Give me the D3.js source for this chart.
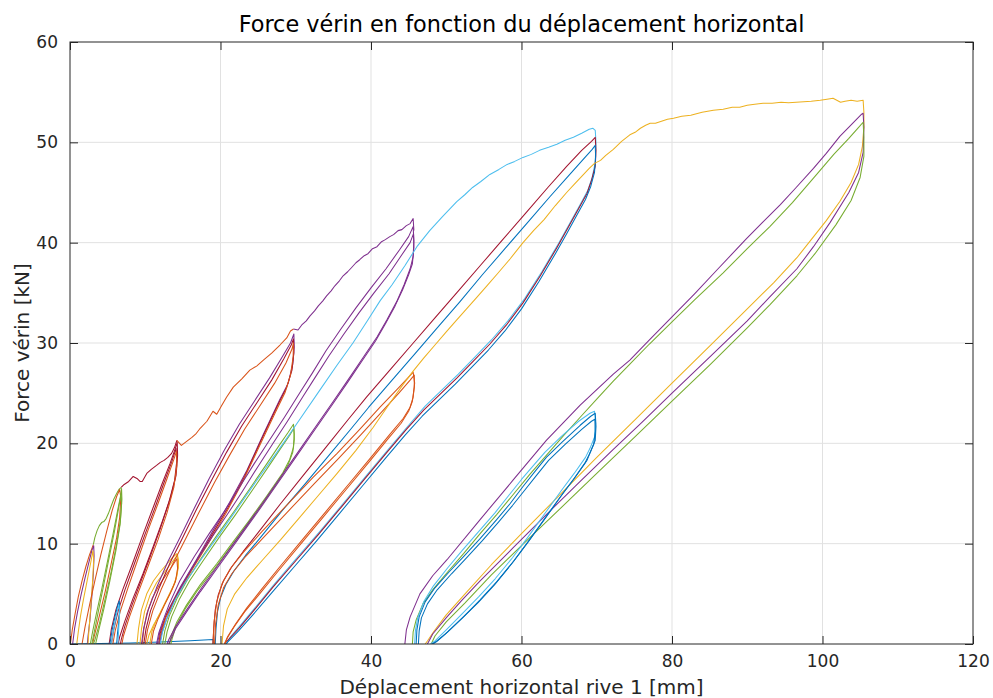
<!DOCTYPE html>
<html>
<head>
<meta charset="utf-8">
<script src="https://cdn.jsdelivr.net/npm/d3@7"></script>
<style>
  body { margin: 0; background: #fff; }
  svg { display: block; }
  text { font-family: "DejaVu Sans", sans-serif; }
</style>
</head>
<body>
<div id="chart"></div>
<script>
// x ticks / y ticks
const xTicks = [0, 20, 40, 60, 80, 100, 120];
const yTicks = [0, 10, 20, 30, 40, 50, 60];

// each curve: [displacement mm, force kN]
const baseline = [[0.2,0],[4,0.05],[8,0.1],[12,0.2],[16,0.32],[19,0.45],[19.05,0.1]];

// cycles up to ~3 mm
const envA = [[0.05,0],[0.3,1.4],[0.7,3.1],[1.1,4.7],[1.6,6.3],[2.1,7.7],[2.6,8.9],[2.95,9.6],[3.1,9.9]];
const cycA1 = [[0.35,0],[0.6,1.5],[1.0,3.2],[1.5,5.0],[2.0,6.6],[2.5,8.1],[2.9,9.3],[3.15,9.8],[3.2,8.8],[3.1,7.0],[2.9,4.7],[2.65,2.4],[2.4,0.8],[2.3,0]];
const cycA2 = [[0.9,0],[1.1,1.2],[1.4,2.8],[1.8,4.5],[2.3,6.4],[2.75,8.1],[3.05,9.3],[3.15,8.4],[3.0,6.2],[2.75,3.6],[2.5,1.2],[2.4,0]];

// cycles up to ~6.8 mm
const envB = [[3.1,9.9],[3.3,10.6],[3.6,11.3],[3.9,11.8],[4.2,12.1],[4.5,12.2],[4.8,12.5],[5.1,13.0],[5.4,13.6],[5.8,14.4],[6.2,15.0],[6.5,15.4],[6.8,15.6]];
const cycB1 = [[1.6,0],[2.0,1.7],[2.6,3.9],[3.3,6.3],[4.1,8.9],[4.9,11.3],[5.6,13.3],[6.2,14.7],[6.6,15.4],[6.75,14.6],[6.6,12.6],[6.2,10.6],[5.5,8.1],[4.7,5.3],[3.9,2.8],[3.2,0.7],[3.0,0]];
const cycB2 = [[2.7,0],[3.0,1.2],[3.5,3.0],[4.2,5.4],[5.0,8.3],[5.7,10.9],[6.3,13.2],[6.7,14.7],[6.85,15.5],[6.9,14.4],[6.7,12.3],[6.2,10.0],[5.5,7.3],[4.7,4.6],[3.9,2.0],[3.3,0.4],[3.1,0]];
const cycB3 = [[2.9,0],[3.2,1.1],[3.7,3.0],[4.4,5.6],[5.2,8.6],[5.9,11.2],[6.4,13.3],[6.8,15.0],[6.85,14.0],[6.65,11.9],[6.1,9.3],[5.3,6.3],[4.5,3.5],[3.8,1.3],[3.4,0]];

// cycles up to ~14.2 mm
const envC = [[6.8,15.6],[7.2,15.9],[7.8,16.2],[8.4,16.7],[8.9,16.5],[9.3,16.2],[9.6,16.2],[10.2,17.0],[10.8,17.4],[11.5,17.8],[12.0,18.1],[12.5,18.3],[13.0,18.6],[13.5,19.0],[13.9,19.6],[14.2,20.3]];
const cycC1 = [[5.2,0],[5.5,1.5],[6.1,3.4],[7.0,5.4],[8.3,8.0],[9.7,10.9],[11.0,13.5],[12.2,15.9],[13.3,18.0],[14.0,19.5],[14.25,20.1],[14.3,18.8],[14.1,16.8],[13.4,14.7],[12.3,12.3],[11.0,9.6],[9.7,7.0],[8.4,4.6],[7.3,2.3],[6.6,0.7],[6.4,0]];
const cycC2 = [[5.5,0],[5.8,1.4],[6.4,3.3],[7.3,5.4],[8.6,8.1],[10.0,11.0],[11.3,13.6],[12.5,16.1],[13.5,18.1],[14.1,19.5],[14.2,18.3],[13.9,16.3],[13.1,14.0],[12.0,11.5],[10.7,8.8],[9.4,6.2],[8.2,3.8],[7.3,1.8],[6.8,0.4],[6.7,0]];
const cycC3 = [[5.7,0],[6.0,1.3],[6.7,3.3],[7.7,5.6],[9.0,8.4],[10.4,11.4],[11.7,14.0],[12.9,16.5],[13.8,18.4],[14.15,19.2],[14.2,17.8],[13.8,15.6],[12.9,13.1],[11.7,10.4],[10.3,7.6],[9.0,5.0],[7.9,2.7],[7.1,0.8],[6.9,0]];
const smallC1 = [[5.3,0],[5.6,1.4],[6.0,2.8],[6.4,4.0],[6.55,4.3],[6.6,3.6],[6.5,2.3],[6.3,1.0],[6.2,0]];
const smallC2 = [[5.5,0],[5.8,1.4],[6.2,3.0],[6.5,3.9],[6.6,3.2],[6.5,1.8],[6.4,0.5],[6.35,0]];
const smallC3 = [[8.9,0],[9.1,1.5],[9.5,3.4],[10.2,5.0],[11.1,6.3],[12.0,7.2],[12.9,8.0],[13.6,8.6],[14.2,9.0],[14.4,8.4],[14.4,7.6],[14.1,6.5],[13.6,5.5],[12.8,4.3],[12.0,3.1],[11.1,1.9],[10.5,0.9],[10.2,0]];
const smallC4 = [[9.3,0],[9.5,1.5],[9.9,3.2],[10.6,4.8],[11.5,6.1],[12.4,7.0],[13.3,7.9],[14.0,8.6],[14.3,8.9],[14.35,8.0],[14.2,6.8],[13.8,5.9],[13.1,4.8],[12.3,3.6],[11.5,2.4],[10.9,1.3],[10.6,0]];
const smallC5 = [[9.6,0],[9.8,1.4],[10.2,3.0],[10.9,4.5],[11.8,5.8],[12.7,6.8],[13.6,7.8],[14.2,8.5],[14.3,7.5],[14.0,6.2],[13.3,5.0],[12.5,3.8],[11.7,2.5],[11.1,1.3],[10.8,0]];

// cycles up to ~29.7 mm
const envD = [[14.2,20.3],[14.8,19.8],[15.5,20.2],[16.2,20.6],[16.8,21.0],[17.3,21.5],[18.2,22.2],[19.0,23.2],[19.5,22.9],[20.1,23.7],[20.8,24.6],[21.7,25.6],[22.8,26.4],[23.9,27.3],[24.8,27.7],[25.7,28.3],[26.8,29.0],[27.9,29.8],[28.8,30.5],[29.3,31.2],[29.7,31.4]];
const cycD1 = [[9.5,0],[9.8,1.6],[10.4,3.4],[11.5,5.6],[13.0,8.2],[14.6,10.6],[16.5,13.5],[18.5,16.5],[20.5,19.3],[22.5,21.9],[24.5,24.2],[26.5,26.5],[28.2,28.6],[29.3,30.0],[29.75,30.9],[29.8,29.6],[29.6,27.9],[29.0,26.0],[27.9,24.4],[25.7,20.9],[23.5,17.3],[21.2,14.1],[19.0,11.3],[16.8,8.4],[14.6,5.6],[13.0,3.3],[12.0,1.4],[11.6,0]];
const cycD2 = [[9.8,0],[10.1,1.5],[10.7,3.3],[11.8,5.5],[13.3,8.1],[14.9,10.5],[16.8,13.4],[18.8,16.3],[20.8,19.1],[22.8,21.7],[24.8,24.0],[26.8,26.3],[28.4,28.4],[29.4,29.8],[29.7,30.4],[29.75,29.0],[29.5,27.3],[28.8,25.6],[27.6,23.8],[25.4,20.3],[23.2,16.7],[21.0,13.6],[18.8,10.8],[16.6,8.0],[14.4,5.2],[12.8,2.9],[12.0,1.1],[11.8,0]];
const cycD3 = [[10.0,0],[10.3,1.4],[11.0,3.3],[12.1,5.4],[13.6,7.9],[15.3,10.4],[17.2,13.2],[19.2,16.1],[21.2,18.8],[23.2,21.4],[25.2,23.7],[27.2,26.0],[28.7,28.0],[29.5,29.4],[29.7,30.0],[29.65,28.6],[29.3,26.8],[28.6,25.1],[27.3,23.1],[25.1,19.6],[22.9,16.1],[20.7,13.0],[18.5,10.2],[16.3,7.5],[14.2,4.8],[12.7,2.6],[12.0,0.8],[11.9,0]];
const smallD1 = [[12.3,0],[12.6,1.3],[13.2,2.8],[14.2,4.5],[15.6,6.4],[17.3,8.4],[19.5,10.8],[21.7,13.1],[24.0,15.6],[26.1,17.9],[27.8,19.8],[29.0,21.1],[29.7,21.9],[29.8,20.9],[29.7,19.6],[29.2,18.4],[28.3,17.1],[26.1,14.7],[23.9,12.4],[21.7,10.2],[19.5,8.0],[17.3,5.9],[15.5,3.9],[14.2,2.2],[13.5,0.9],[13.2,0]];
const smallD2 = [[12.6,0],[12.9,1.2],[13.5,2.7],[14.5,4.4],[15.9,6.3],[17.6,8.2],[19.8,10.6],[22.0,12.9],[24.3,15.4],[26.4,17.7],[28.0,19.5],[29.2,20.8],[29.75,21.5],[29.8,20.4],[29.6,19.1],[29.0,17.9],[28.0,16.6],[25.8,14.2],[23.6,11.9],[21.4,9.7],[19.2,7.5],[17.0,5.4],[15.3,3.5],[14.1,1.8],[13.6,0.6],[13.4,0]];

// cycles up to ~45.6 mm
const envE = [[29.7,31.4],[30.3,31.3],[30.8,31.8],[31.4,32.2],[31.9,32.7],[32.5,33.2],[33.0,33.7],[33.6,34.2],[34.1,34.7],[34.7,35.2],[35.2,35.7],[35.8,36.2],[36.3,36.7],[36.9,37.1],[37.4,37.5],[38.0,38.0],[38.5,38.3],[39.1,38.7],[39.6,38.9],[40.2,39.4],[40.8,39.6],[41.4,40.1],[41.9,40.3],[42.5,40.6],[43.0,40.8],[43.6,41.2],[44.1,41.3],[44.7,41.7],[45.2,41.9],[45.6,42.4],[45.7,41.2]];
const cycE1 = [[11.5,0],[11.8,1.1],[12.3,2.2],[13.2,4.0],[14.6,6.3],[16.5,8.7],[18.5,11.0],[20.5,13.2],[22.5,15.6],[24.5,18.0],[26.5,20.3],[28.5,22.6],[30.5,25.0],[32.2,27.0],[34.0,29.2],[36.0,31.4],[38.0,33.5],[40.0,35.5],[42.0,37.4],[43.8,39.3],[45.0,40.6],[45.6,41.6],[45.7,40.2],[45.6,38.6],[45.2,37.4],[44.4,35.8],[43.4,34.1],[42.1,32.3],[40.8,30.6],[39.0,28.6],[37.2,26.6],[35.0,24.2],[32.5,21.5],[30.0,18.8],[27.5,16.1],[25.0,13.4],[22.5,10.8],[20.0,8.2],[17.5,5.6],[15.5,3.4],[14.0,1.7],[13.1,0.4],[12.9,0]];
const cycE2 = [[11.9,0],[12.2,1.1],[12.7,2.2],[13.6,3.9],[15.0,6.0],[16.9,8.4],[18.9,10.7],[20.9,12.9],[22.9,15.2],[24.9,17.6],[26.9,19.9],[28.9,22.2],[30.9,24.6],[32.6,26.6],[34.4,28.7],[36.4,30.9],[38.4,33.0],[40.4,35.0],[42.4,36.9],[44.1,38.8],[45.2,40.0],[45.65,40.9],[45.7,39.5],[45.5,37.9],[45.0,36.8],[44.2,35.3],[43.2,33.7],[41.9,31.9],[40.6,30.2],[38.8,28.2],[37.0,26.2],[34.8,23.8],[32.3,21.1],[29.8,18.4],[27.3,15.7],[24.8,13.0],[22.3,10.4],[19.8,7.8],[17.3,5.2],[15.4,3.1],[14.0,1.5],[13.3,0.3],[13.1,0]];
const smallE1 = [[19.0,0],[19.15,2.2],[19.5,4.2],[20.2,6.0],[21.3,7.5],[23.0,9.1],[25.5,11.2],[28.5,13.6],[32.3,16.6],[35.5,19.0],[38.5,21.4],[41.2,23.6],[43.5,25.4],[45.0,26.6],[45.6,27.1],[45.8,26.0],[45.6,24.6],[45.2,23.6],[44.3,22.5],[42.5,20.9],[40.0,18.6],[37.0,15.9],[34.0,13.2],[31.0,10.5],[28.0,7.8],[25.5,5.5],[23.5,3.6],[22.0,2.0],[21.0,0.8],[20.5,0]];
const smallE2 = [[19.2,0],[19.35,2.0],[19.7,3.9],[20.4,5.6],[21.5,7.0],[23.2,8.6],[25.7,10.6],[28.7,13.0],[32.5,16.0],[35.7,18.5],[38.7,20.9],[41.4,23.1],[43.7,25.0],[45.2,26.3],[45.75,26.8],[45.75,25.6],[45.5,24.2],[45.0,23.2],[44.0,22.0],[42.2,20.4],[39.7,18.1],[36.7,15.4],[33.7,12.7],[30.7,10.0],[27.7,7.3],[25.2,5.0],[23.2,3.2],[21.8,1.7],[20.9,0.6],[20.6,0]];

// cycles up to ~69.8 mm
const envF = [[12.0,0],[12.3,1.2],[12.9,2.6],[13.9,4.3],[15.3,6.1],[17.5,8.5],[20.0,11.1],[22.5,13.8],[25.0,16.5],[27.5,19.1],[30.0,21.8],[33.2,25.3],[35.5,27.8],[37.6,30.0],[39.5,32.2],[41.2,34.2],[42.8,35.8],[44.5,37.7],[46.1,39.6],[47.8,41.2],[49.5,42.6],[51.4,44.1],[52.5,44.8],[53.5,45.5],[54.6,46.1],[55.8,46.8],[57.0,47.3],[58.1,47.8],[59.1,48.1],[60.2,48.5],[61.3,48.8],[62.4,49.2],[63.6,49.5],[64.7,49.8],[65.8,50.2],[66.9,50.5],[68.0,50.9],[69.0,51.3],[69.5,51.4],[69.8,51.2],[69.9,50.0],[69.8,48.0],[69.4,46.5],[68.8,45.2],[67.8,43.8],[66.4,41.9],[64.9,39.9],[62.7,37.1],[60.4,34.4],[58.2,32.2],[56.0,30.3],[53.8,28.6],[51.6,26.9],[49.4,25.3],[47.2,23.7],[45.0,21.8],[42.3,19.4],[39.3,16.7],[36.3,14.0],[33.3,11.3],[30.3,8.7],[27.3,6.1],[24.8,3.8],[22.8,2.0],[21.3,0.7],[20.8,0]];
const cycF1 = [[19.0,0],[19.1,1.6],[19.3,3.4],[19.7,4.9],[20.4,6.3],[21.5,7.7],[23.0,9.2],[25.0,11.1],[27.9,13.9],[31.0,16.8],[34.0,19.6],[37.0,22.4],[39.4,24.6],[42.5,27.3],[45.5,29.9],[48.5,32.5],[51.5,35.1],[54.5,37.7],[57.5,40.3],[60.5,42.9],[63.5,45.5],[66.0,47.6],[68.0,49.2],[69.3,50.1],[69.8,50.5],[69.9,49.2],[69.8,47.6],[69.3,46.2],[68.7,44.9],[67.6,43.4],[66.2,41.5],[64.7,39.5],[62.5,36.7],[60.2,34.0],[58.0,31.8],[55.8,29.9],[53.6,28.2],[51.4,26.5],[49.2,24.9],[47.0,23.3],[44.7,21.4],[42.0,19.0],[39.0,16.3],[36.0,13.6],[33.0,10.9],[30.0,8.3],[27.0,5.7],[24.5,3.4],[22.5,1.6],[21.0,0.4],[20.5,0]];
const cycF2 = [[19.3,0],[19.4,1.5],[19.6,3.2],[20.0,4.6],[20.7,5.9],[21.8,7.3],[23.3,8.8],[25.3,10.6],[28.2,13.3],[31.3,16.0],[34.3,18.7],[37.3,21.4],[39.7,23.6],[42.8,26.3],[45.8,28.9],[48.8,31.5],[51.8,34.1],[54.8,36.8],[57.8,39.4],[60.8,42.0],[63.8,44.6],[66.3,46.7],[68.2,48.3],[69.4,49.3],[69.8,49.7],[69.85,48.6],[69.7,47.0],[69.2,45.6],[68.5,44.3],[67.4,42.8],[66.0,40.9],[64.5,38.9],[62.3,36.1],[60.0,33.4],[57.8,31.2],[55.6,29.3],[53.4,27.6],[51.2,25.9],[49.0,24.3],[46.8,22.7],[44.5,20.8],[41.8,18.4],[38.8,15.7],[35.8,13.0],[32.8,10.3],[29.8,7.7],[26.8,5.1],[24.3,2.9],[22.4,1.3],[21.1,0.3],[20.7,0]];
const smallF1 = [[46.0,0],[46.1,1.4],[46.4,2.7],[47.2,4.2],[48.5,5.6],[50.4,7.2],[52.3,8.7],[54.5,10.5],[56.7,12.4],[58.5,14.0],[60.2,15.7],[61.8,17.2],[63.3,18.6],[65.5,20.2],[67.8,21.8],[69.2,22.7],[69.8,23.0],[69.9,21.7],[69.8,20.3],[69.2,19.2],[68.7,18.3],[67.2,16.7],[65.5,15.0],[63.3,12.7],[61.1,10.4],[59.0,8.3],[56.7,6.2],[54.5,4.4],[52.3,2.7],[50.2,1.2],[48.8,0.3],[48.2,0]];
const smallF2 = [[46.3,0],[46.4,1.3],[46.7,2.6],[47.5,4.0],[48.8,5.4],[50.7,7.0],[52.6,8.5],[54.8,10.3],[57.0,12.2],[58.8,13.8],[60.5,15.4],[62.1,16.9],[63.6,18.3],[65.8,19.9],[68.0,21.4],[69.3,22.2],[69.75,22.4],[69.8,21.2],[69.6,19.9],[69.0,18.9],[68.4,18.0],[66.9,16.4],[65.2,14.7],[63.0,12.4],[60.8,10.1],[58.7,8.0],[56.4,5.9],[54.2,4.1],[52.0,2.5],[49.9,1.0],[48.6,0.2],[48.1,0]];
const smallF3 = [[45.8,0],[45.9,1.3],[46.2,2.6],[47.0,4.2],[48.3,5.8],[50.2,7.6],[52.1,9.3],[54.3,11.2],[56.5,13.1],[58.3,14.8],[60.0,16.4],[61.6,17.8],[63.1,19.1],[65.3,20.7],[67.6,22.2],[69.1,23.0],[69.7,23.2],[69.85,22.0],[69.7,20.6],[69.1,19.5],[68.5,18.6],[67.0,17.0],[65.3,15.3],[63.1,13.0],[60.9,10.7],[58.8,8.6],[56.5,6.5],[54.3,4.7],[52.1,3.0],[50.0,1.4],[48.5,0.3],[47.9,0]];

// cycles up to ~105.4 mm
const envG = [[20.2,0],[20.4,1.8],[20.9,3.5],[21.9,5.0],[23.5,6.6],[25.5,8.3],[28.0,10.4],[30.5,12.6],[33.0,14.8],[35.5,17.0],[38.0,19.3],[40.3,21.6],[42.5,24.0],[44.2,25.8],[45.6,27.2],[47.0,28.5],[48.5,29.8],[50.0,31.1],[51.4,32.3],[52.7,33.4],[54.0,34.5],[55.4,35.7],[56.8,36.9],[58.5,38.4],[60.2,40.0],[61.6,41.2],[63.0,42.3],[64.5,43.7],[66.0,45.0],[67.0,45.8],[68.0,46.6],[69.0,47.4],[69.7,47.9],[70.5,48.2],[71.2,48.7],[72.2,49.3],[73.3,50.1],[74.4,50.75],[75.1,51.0],[75.8,51.4],[76.5,51.7],[77.1,51.9],[77.8,51.9],[78.6,52.1],[79.4,52.3],[80.2,52.4],[81.3,52.6],[82.5,52.7],[84.0,53.0],[85.5,53.2],[86.8,53.3],[88.0,53.5],[89.0,53.5],[90.0,53.7],[91.0,53.8],[92.1,53.9],[93.3,53.9],[94.5,54.0],[95.5,53.95],[96.5,54.0],[97.5,54.05],[98.5,54.1],[99.7,54.2],[100.6,54.3],[101.4,54.4],[101.9,54.2],[102.4,54.0],[103.0,54.1],[103.8,54.2],[104.6,54.1],[105.4,54.2],[105.5,53.0],[105.5,51.5],[105.3,49.6],[104.8,47.8],[103.8,46.0],[102.3,44.1],[100.5,42.2],[98.5,40.3],[96.6,38.5],[93.5,36.0],[90.0,33.4],[85.0,29.7],[80.0,26.0],[75.0,22.3],[70.0,18.6],[65.0,14.8],[60.0,11.0],[56.0,7.9],[52.5,5.0],[50.0,2.9],[48.3,1.2],[47.5,0.3],[47.2,0]];
const cycG1 = [[44.5,0],[44.7,1.4],[45.2,2.7],[46.5,5.0],[48.2,6.8],[50.1,8.4],[54.5,12.4],[58.9,16.35],[63.3,20.3],[67.8,23.8],[72.2,26.9],[74.4,28.3],[77.0,30.3],[80.0,32.6],[83.0,34.9],[86.0,37.3],[89.9,40.4],[92.0,42.0],[94.4,43.8],[96.5,45.5],[98.8,47.4],[100.5,48.9],[102.3,50.6],[104.0,51.9],[105.2,52.8],[105.4,52.9],[105.5,51.5],[105.4,49.0],[104.8,47.0],[103.5,45.0],[101.0,42.0],[98.8,39.6],[96.6,37.4],[93.0,34.6],[90.0,32.2],[85.0,28.6],[80.0,25.0],[76.0,22.1],[72.2,19.4],[67.8,16.2],[63.3,12.9],[58.9,9.6],[54.5,6.3],[52.0,4.3],[50.1,2.7],[48.2,1.0],[47.5,0]];
const cycG2 = [[45.5,0],[45.6,1.2],[46.0,2.4],[46.9,4.0],[48.3,5.5],[50.1,7.1],[52.3,9.0],[54.5,11.0],[56.7,12.9],[58.9,14.9],[61.1,16.9],[63.3,18.8],[65.5,20.7],[67.8,22.6],[70.0,24.4],[72.2,26.2],[74.4,27.9],[77.0,29.9],[80.0,32.1],[83.0,34.3],[86.8,37.0],[90.0,39.4],[93.0,41.6],[96.0,44.0],[99.0,46.6],[101.5,48.8],[103.5,50.4],[104.8,51.5],[105.4,52.0],[105.5,50.5],[105.5,48.6],[105.0,46.5],[103.8,44.2],[101.8,41.8],[99.0,38.9],[96.6,36.7],[93.0,33.8],[90.0,31.5],[85.0,27.8],[80.0,24.2],[75.0,20.6],[70.0,17.0],[65.0,13.4],[60.0,9.8],[56.0,6.9],[52.5,4.1],[50.0,2.2],[48.5,0.8],[48.0,0]];

// MATLAB default line colours
const blue = "#0072BD", orange = "#D95319", yellow = "#EDB120", purple = "#7E2F8E",
      green = "#77AC30", cyan = "#4DBEEE", red = "#A2142F";

const series = [
  {data: baseline, color: blue},
  {data: envA, color: orange}, {data: cycA1, color: purple}, {data: cycA2, color: yellow},
  {data: envB, color: green}, {data: cycB1, color: orange}, {data: cycB2, color: green}, {data: cycB3, color: green},
  {data: envC, color: red}, {data: cycC1, color: red}, {data: cycC2, color: red}, {data: cycC3, color: orange},
  {data: smallC1, color: blue}, {data: smallC2, color: cyan},
  {data: smallC3, color: yellow}, {data: smallC4, color: yellow}, {data: smallC5, color: orange},
  {data: envD, color: orange}, {data: cycD1, color: purple}, {data: cycD2, color: red}, {data: cycD3, color: orange},
  {data: smallD1, color: green}, {data: smallD2, color: green},
  {data: envE, color: purple}, {data: cycE1, color: purple}, {data: cycE2, color: purple},
  {data: envF, color: cyan}, {data: cycF1, color: red}, {data: cycF2, color: blue},
  {data: smallE1, color: orange}, {data: smallE2, color: orange},
  {data: envG, color: yellow}, {data: cycG1, color: purple}, {data: cycG2, color: green},
  {data: smallF3, color: cyan}, {data: smallF1, color: blue}, {data: smallF2, color: blue}
];

const width = 993, height = 698;
const margin = {top: 42, right: 20, bottom: 54, left: 70};
const plotW = width - margin.left - margin.right;
const plotH = height - margin.top - margin.bottom;

const svg = d3.select("#chart").append("svg")
  .attr("width", width)
  .attr("height", height);

const x = d3.scaleLinear().domain([0, 120]).range([margin.left, margin.left + plotW]);
const y = d3.scaleLinear().domain([0, 60]).range([margin.top + plotH, margin.top]);

// grid
svg.append("g")
  .selectAll("line")
  .data(xTicks.slice(1, -1))
  .join("line")
  .attr("x1", d => x(d)).attr("x2", d => x(d))
  .attr("y1", y(0)).attr("y2", y(60))
  .attr("stroke", "#e1e1e1").attr("stroke-width", 1);
svg.append("g")
  .selectAll("line")
  .data(yTicks.slice(1, -1))
  .join("line")
  .attr("x1", x(0)).attr("x2", x(120))
  .attr("y1", d => y(d)).attr("y2", d => y(d))
  .attr("stroke", "#e1e1e1").attr("stroke-width", 1);

svg.append("defs").append("clipPath").attr("id", "clip")
  .append("rect")
  .attr("x", margin.left).attr("y", margin.top)
  .attr("width", plotW).attr("height", plotH);

const line = d3.line().x(d => x(d[0])).y(d => y(d[1]));

svg.append("g")
  .attr("clip-path", "url(#clip)")
  .selectAll("path")
  .data(series)
  .join("path")
  .attr("d", d => line(d.data))
  .attr("fill", "none")
  .attr("stroke", d => d.color)
  .attr("stroke-width", 1.05)
  .attr("stroke-linejoin", "round");

// axes, ticks pointing inward
const axisColor = "#262626";
function styleAxis(g) {
  g.select(".domain").remove();
  g.selectAll(".tick line").attr("stroke", axisColor);
  g.selectAll(".tick text").attr("fill", axisColor).style("font-size", "17px");
}

svg.append("g")
  .attr("transform", `translate(0,${y(0)})`)
  .call(d3.axisBottom(x).tickValues(xTicks).tickSizeInner(-8).tickSizeOuter(0).tickPadding(11))
  .call(styleAxis);
svg.append("g")
  .attr("transform", `translate(0,${y(60)})`)
  .call(d3.axisTop(x).tickValues(xTicks).tickSizeInner(-8).tickSizeOuter(0).tickFormat(""))
  .call(styleAxis);
svg.append("g")
  .attr("transform", `translate(${x(0)},0)`)
  .call(d3.axisLeft(y).tickValues(yTicks).tickSizeInner(-8).tickSizeOuter(0).tickPadding(12))
  .call(styleAxis);
svg.append("g")
  .attr("transform", `translate(${x(120)},0)`)
  .call(d3.axisRight(y).tickValues(yTicks).tickSizeInner(-8).tickSizeOuter(0).tickFormat(""))
  .call(styleAxis);

svg.append("rect")
  .attr("x", x(0)).attr("y", y(60))
  .attr("width", plotW).attr("height", plotH)
  .attr("fill", "none")
  .attr("stroke", axisColor)
  .attr("stroke-width", 1);

svg.append("text")
  .attr("x", margin.left + plotW / 2)
  .attr("y", 32)
  .attr("text-anchor", "middle")
  .attr("fill", "#000")
  .style("font-size", "22.4px")
  .text("Force vérin en fonction du déplacement horizontal");

svg.append("text")
  .attr("x", margin.left + plotW / 2)
  .attr("y", 694)
  .attr("text-anchor", "middle")
  .attr("fill", axisColor)
  .style("font-size", "20px")
  .text("Déplacement horizontal rive 1 [mm]");

svg.append("text")
  .attr("transform", `translate(29,${margin.top + plotH / 2}) rotate(-90)`)
  .attr("text-anchor", "middle")
  .attr("fill", axisColor)
  .style("font-size", "20px")
  .text("Force vérin [kN]");
</script>
</body>
</html>
